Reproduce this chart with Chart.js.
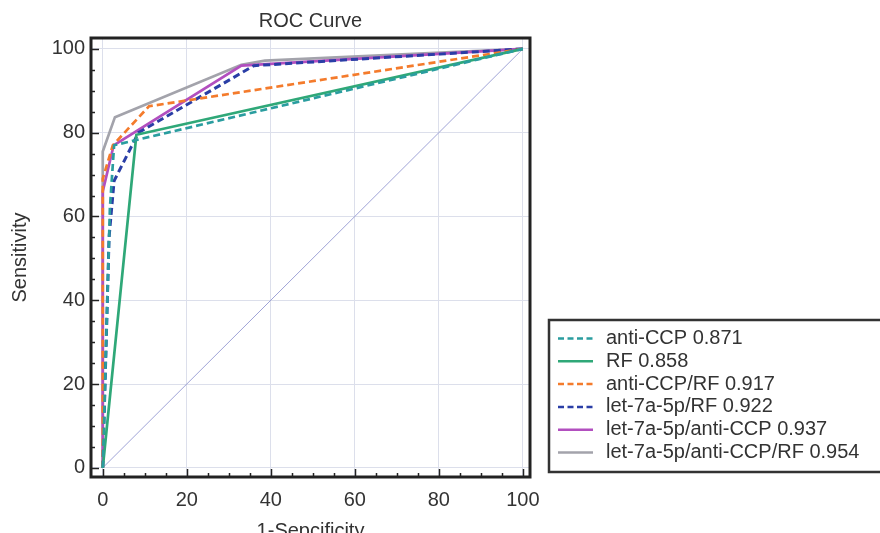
<!DOCTYPE html>
<html>
<head>
<meta charset="utf-8">
<script src="https://cdn.jsdelivr.net/npm/chart.js@4/dist/chart.umd.min.js"></script>
<style>
  html, body { margin: 0; padding: 0; background: #fff; }
  #roc { display: block; }
</style>
</head>
<body>
<canvas id="roc" width="880" height="533"></canvas>
<script>
// tick labels
const majorTicks = [0, 20, 40, 60, 80, 100];
const minorTicks = [5, 10, 15, 25, 30, 35, 45, 50, 55, 65, 70, 75, 85, 90, 95];

// series (x = 1-specificity, y = sensitivity)
const antiCcpX = [0, 1.7, 2.7, 100];
const antiCcpY = [0, 62, 77, 100];
const rfX = [0, 8, 100];
const rfY = [0, 79.5, 100];
const antiCcpRfX = [0, 0, 2.4, 11, 100];
const antiCcpRfY = [0, 69, 77, 86.3, 100];
const letRfX = [0, 1.5, 2.7, 8.5, 36, 100];
const letRfY = [0, 55, 68.5, 80, 96, 100];
const letCcpX = [0, 0, 2.6, 33, 100];
const letCcpY = [0, 66, 77, 96, 100];
const letCcpRfX = [0, 0, 2.9, 33, 38.6, 100];
const letCcpRfY = [0, 75.5, 83.7, 96.2, 97.2, 100];
const diagX = [0, 100];
const diagY = [0, 100];

const font = 'Liberation Sans, Arial, sans-serif';

function pts(xs, ys) {
  return xs.map((x, i) => ({ x: x, y: ys[i] }));
}

function series(label, xs, ys, color, dashed, width) {
  return {
    label: label,
    data: pts(xs, ys),
    borderColor: color,
    borderWidth: width || 2.7,
    borderDash: dashed ? [7, 4] : [],
    pointRadius: 0,
    tension: 0,
    fill: false
  };
}

const datasets = [
  series('anti-CCP 0.871', antiCcpX, antiCcpY, '#2a9d9f', true),
  series('RF 0.858', rfX, rfY, '#2fa878', false),
  series('anti-CCP/RF 0.917', antiCcpRfX, antiCcpRfY, '#f47b2c', true),
  series('let-7a-5p/RF 0.922', letRfX, letRfY, '#2a3ea6', true, 3),
  series('let-7a-5p/anti-CCP 0.937', letCcpX, letCcpY, '#b24fbf', false),
  series('let-7a-5p/anti-CCP/RF 0.954', letCcpRfX, letCcpRfY, '#a3a3ab', false),
  Object.assign(series('', diagX, diagY, '#9fa3d6', false, 1), { legendHidden: true })
];

// frame, inward ticks and the boxed legend
const framePlugin = {
  id: 'framePlugin',
  afterDraw(chart) {
    const { ctx, chartArea: a, scales } = chart;
    const x = scales.x, y = scales.y;
    ctx.save();
    ctx.strokeStyle = '#222';
    ctx.lineWidth = 1.5;
    ctx.beginPath();
    majorTicks.concat(minorTicks).forEach(v => {
      const len = majorTicks.includes(v) ? 8 : 4;
      const px = Math.round(x.getPixelForValue(v)) + 0.5;
      ctx.moveTo(px, a.bottom);
      ctx.lineTo(px, a.bottom - len);
      const py = Math.round(y.getPixelForValue(v)) + 0.5;
      ctx.moveTo(a.left, py);
      ctx.lineTo(a.left + len, py);
    });
    ctx.stroke();
    ctx.lineWidth = 3;
    ctx.strokeRect(a.left, a.top, a.right - a.left, a.bottom - a.top);

    // legend
    const lx = 549, ly = 320, lw = 340, lh = 152;
    ctx.strokeStyle = '#333';
    ctx.lineWidth = 2.5;
    ctx.strokeRect(lx, ly, lw, lh);
    ctx.font = '20px ' + font;
    ctx.fillStyle = '#333';
    ctx.textBaseline = 'middle';
    ctx.textAlign = 'left';
    chart.data.datasets.filter(d => !d.legendHidden).forEach((d, i) => {
      const ry = 338.5 + i * 22.8;
      ctx.strokeStyle = d.borderColor;
      ctx.lineWidth = 2.5;
      ctx.setLineDash(d.borderDash.length ? [6, 3.5] : []);
      ctx.beginPath();
      ctx.moveTo(558, ry);
      ctx.lineTo(593, ry);
      ctx.stroke();
      ctx.setLineDash([]);
      ctx.fillText(d.label, 606, ry);
    });
    ctx.restore();
  }
};

function fixTicks(scale) {
  scale.ticks = majorTicks.map(v => ({ value: v }));
}

new Chart(document.getElementById('roc'), {
  type: 'line',
  data: { datasets: datasets },
  options: {
    responsive: false,
    animation: false,
    devicePixelRatio: 1,
    layout: { padding: { left: 0, right: 350, top: 0, bottom: 0 } },
    plugins: {
      legend: { display: false },
      tooltip: { enabled: false },
      title: {
        display: true,
        text: 'ROC Curve',
        fullSize: false,
        color: '#333',
        font: { family: font, size: 20, weight: 'normal' },
        padding: { top: 9, bottom: 5 }
      }
    },
    scales: {
      x: {
        type: 'linear',
        min: -2.8,
        max: 101.7,
        afterBuildTicks: fixTicks,
        afterFit(scale) { scale.height = 56; },
        grid: { color: '#dcdfeb', lineWidth: 1, drawTicks: false },
        border: { display: false },
        ticks: { color: '#333', padding: 11, font: { family: font, size: 20 } },
        title: {
          display: true,
          text: '1-Sepcificity',
          color: '#333',
          font: { family: font, size: 20 },
          padding: { top: 0, bottom: -10 }
        }
      },
      y: {
        type: 'linear',
        min: -2.2,
        max: 102.6,
        afterBuildTicks: fixTicks,
        afterFit(scale) { scale.width = 91; },
        grid: { color: '#dcdfeb', lineWidth: 1, drawTicks: false },
        border: { display: false },
        ticks: { color: '#333', padding: 6, font: { family: font, size: 20 } },
        title: {
          display: true,
          text: 'Sensitivity',
          color: '#333',
          font: { family: font, size: 20 },
          padding: { top: 8, bottom: 0 }
        }
      }
    }
  },
  plugins: [framePlugin]
});
</script>
</body>
</html>
